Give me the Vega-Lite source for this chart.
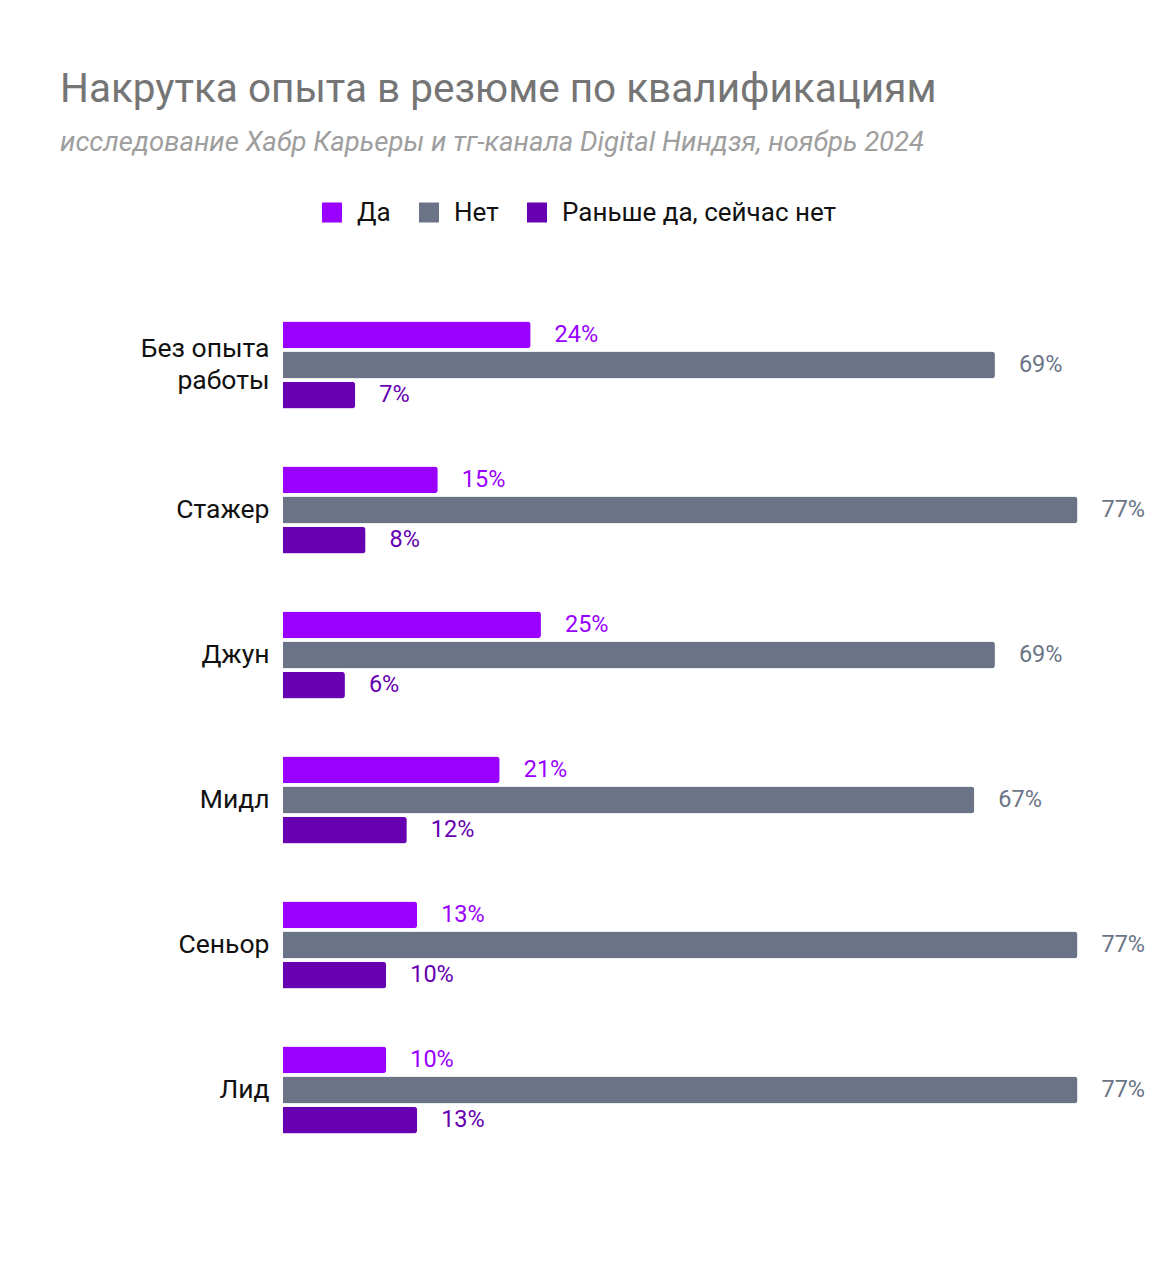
{
  "$schema": "https://vega.github.io/schema/vega-lite/v6.json",
  "width": 877,
  "height": 870,
  "autosize": {"type": "none"},
  "padding": {"left": 283, "top": 292.5, "right": 9, "bottom": 117.5},
  "background": "white",
  "title": {
    "text": "Накрутка опыта в резюме по квалификациям",
    "subtitle": "исследование Хабр Карьеры и тг-канала Digital Ниндзя, ноябрь 2024",
    "anchor": "start",
    "frame": "group",
    "dx": -223,
    "offset": 43,
    "font": "Roboto",
    "fontSize": 40.5,
    "fontWeight": "normal",
    "color": "#757575",
    "subtitleFont": "Roboto",
    "subtitleFontSize": 27.5,
    "subtitleFontStyle": "italic",
    "subtitleColor": "#9e9e9e",
    "subtitlePadding": 19
  },
  "config": {
    "view": {"stroke": null},
    "font": "Roboto"
  },
  "data": {
    "values": [
      {"level": "Без опыта работы", "answer": "Да", "value": 24},
      {"level": "Без опыта работы", "answer": "Нет", "value": 69},
      {"level": "Без опыта работы", "answer": "Раньше да, сейчас нет", "value": 7},
      {"level": "Стажер", "answer": "Да", "value": 15},
      {"level": "Стажер", "answer": "Нет", "value": 77},
      {"level": "Стажер", "answer": "Раньше да, сейчас нет", "value": 8},
      {"level": "Джун", "answer": "Да", "value": 25},
      {"level": "Джун", "answer": "Нет", "value": 69},
      {"level": "Джун", "answer": "Раньше да, сейчас нет", "value": 6},
      {"level": "Мидл", "answer": "Да", "value": 21},
      {"level": "Мидл", "answer": "Нет", "value": 67},
      {"level": "Мидл", "answer": "Раньше да, сейчас нет", "value": 12},
      {"level": "Сеньор", "answer": "Да", "value": 13},
      {"level": "Сеньор", "answer": "Нет", "value": 77},
      {"level": "Сеньор", "answer": "Раньше да, сейчас нет", "value": 10},
      {"level": "Лид", "answer": "Да", "value": 10},
      {"level": "Лид", "answer": "Нет", "value": 77},
      {"level": "Лид", "answer": "Раньше да, сейчас нет", "value": 13}
    ]
  },
  "encoding": {
    "y": {
      "field": "level",
      "type": "nominal",
      "sort": ["Без опыта работы", "Стажер", "Джун", "Мидл", "Сеньор", "Лид"],
      "scale": {"paddingInner": 0.4, "paddingOuter": 0.2},
      "axis": {
        "title": null,
        "domain": false,
        "ticks": false,
        "labelFontSize": 26.5,
        "labelColor": "#111111",
        "labelFont": "Roboto",
        "labelPadding": 14,
        "labelLineHeight": 32,
        "labelOffset": {"condition": {"test": "datum.value == 'Без опыта работы'", "value": -16}, "value": 0},
        "labelExpr": "datum.value == 'Без опыта работы' ? ['Без опыта', 'работы'] : datum.value"
      }
    },
    "yOffset": {
      "field": "answer",
      "type": "nominal",
      "sort": ["Да", "Нет", "Раньше да, сейчас нет"],
      "scale": {"paddingInner": 0.11, "paddingOuter": 0}
    },
    "x": {
      "field": "value",
      "type": "quantitative",
      "scale": {"domain": [0, 85]},
      "axis": null
    },
    "color": {
      "field": "answer",
      "type": "nominal",
      "scale": {
        "domain": ["Да", "Нет", "Раньше да, сейчас нет"],
        "range": ["#9900ff", "#6b7486", "#6600b0"]
      },
      "legend": {
        "title": null,
        "orient": "none",
        "direction": "horizontal",
        "legendX": 36,
        "legendY": -93,
        "symbolType": "square",
        "symbolSize": 400,
        "symbolStrokeWidth": 0,
        "symbolOpacity": 1,
        "labelFontSize": 26,
        "labelFont": "Roboto",
        "labelColor": "#111111",
        "labelOffset": 12,
        "labelLimit": 500,
        "columnPadding": 25
      }
    }
  },
  "layer": [
    {
      "mark": {"type": "bar", "cornerRadiusEnd": 3}
    },
    {
      "transform": [{"calculate": "datum.value + '%'", "as": "label"}],
      "mark": {"type": "text", "align": "left", "baseline": "middle", "dx": 24, "fontSize": 23.5, "font": "Roboto"},
      "encoding": {
        "text": {"field": "label", "type": "nominal"}
      }
    }
  ]
}
